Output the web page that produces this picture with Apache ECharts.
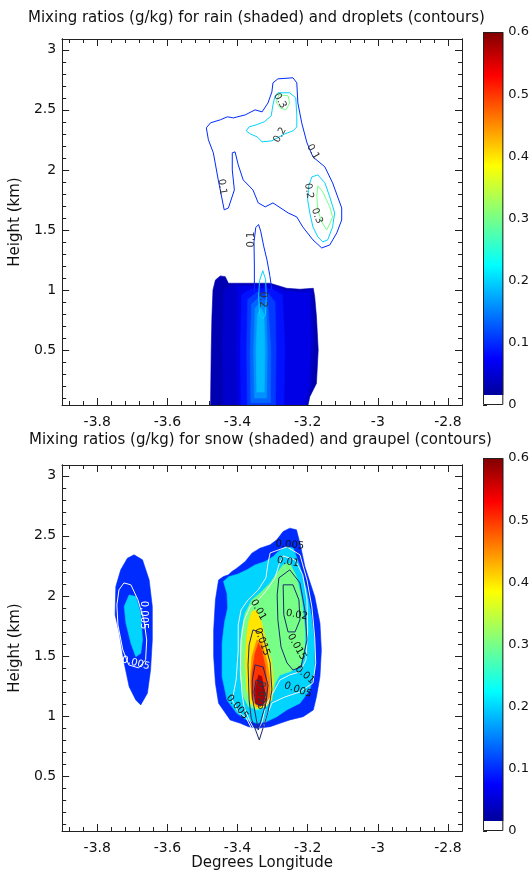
<!DOCTYPE html>
<html><head><meta charset="utf-8">
<script src="https://cdn.jsdelivr.net/npm/echarts@6/dist/echarts.min.js"></script>
<style>html,body{margin:0;padding:0;background:#fff}#c{width:532px;height:873px}</style>
</head><body><div id="c"></div><script>
const FONT = '"DejaVu Sans", sans-serif';
const AX = '#222', TXT = '#111';

// ---- axis ranges and ticks ----
const X_MIN = -3.9, X_MAX = -2.76, Y_MIN = 0.042, Y_MAX = 3.09;
const xMajorTicks = [-3.8, -3.6, -3.4, -3.2, -3.0, -2.8];
const xMinorTicks = [-3.88, -3.84, -3.76, -3.72, -3.68, -3.64, -3.56, -3.52, -3.48, -3.44, -3.36, -3.32, -3.28, -3.24, -3.16, -3.12, -3.08, -3.04, -2.96, -2.92, -2.88, -2.84];
const yMajorTicks = [0.5, 1, 1.5, 2, 2.5, 3];
const yMinorTicks = [0.1, 0.2, 0.3, 0.4, 0.6, 0.7, 0.8, 0.9, 1.1, 1.2, 1.3, 1.4, 1.6, 1.7, 1.8, 1.9, 2.1, 2.2, 2.3, 2.4, 2.6, 2.7, 2.8, 2.9];
const CB_MIN = 0, CB_WHITE = 0.016, CB_MAX = 0.6;

// jet-like colour table (value, rgb)
const cmapStops = [[0, [0, 0, 128]], [0.075, [0, 0, 255]], [0.225, [0, 255, 255]], [0.385, [255, 255, 0]], [0.53, [255, 0, 0]], [0.6, [128, 0, 0]]];

// ---- top panel: rain (shaded) ----
const rainLevels = [0.03, 0.045, 0.06, 0.085, 0.11, 0.135, 0.16, 0.185];
const rainL1 = [[-3.477,0.042],[-3.475,0.5],[-3.473,0.778],[-3.47,1.0],[-3.463,1.083],[-3.449,1.117],[-3.435,1.111],[-3.426,1.056],[-3.402,1.056],[-3.345,1.056],[-3.307,1.056],[-3.26,1.014],[-3.222,1.006],[-3.184,1.014],[-3.18,0.944],[-3.175,0.778],[-3.17,0.5],[-3.175,0.222],[-3.194,0.111],[-3.199,0.042]];
const rainL2 = [[-3.44,0.042],[-3.442,0.6],[-3.438,1.0],[-3.42,1.04],[-3.345,1.045],[-3.307,1.045],[-3.26,1.0],[-3.222,0.992],[-3.188,1.0],[-3.184,0.6],[-3.19,0.2],[-3.203,0.042]];
const rainL3 = [[-3.40,0.042],[-3.403,0.5],[-3.40,1.03],[-3.345,1.035],[-3.307,1.035],[-3.26,0.985],[-3.222,0.978],[-3.195,0.98],[-3.192,0.6],[-3.197,0.2],[-3.21,0.042]];
const rainL4 = [[-3.39,0.042],[-3.392,0.5],[-3.388,0.96],[-3.36,1.01],[-3.305,1.01],[-3.272,0.96],[-3.265,0.5],[-3.268,0.042]];
const rainL5 = [[-3.372,0.042],[-3.374,0.5],[-3.371,0.92],[-3.345,0.98],[-3.312,0.97],[-3.293,0.9],[-3.29,0.5],[-3.292,0.042]];
const rainL6 = [[-3.362,0.06],[-3.364,0.5],[-3.36,0.88],[-3.335,0.95],[-3.314,0.9],[-3.305,0.5],[-3.306,0.06]];
const rainL7 = [[-3.352,0.1],[-3.354,0.5],[-3.35,0.85],[-3.333,0.9],[-3.319,0.84],[-3.315,0.5],[-3.317,0.1]];
const rainL8 = [[-3.345,0.15],[-3.347,0.5],[-3.343,0.8],[-3.333,0.85],[-3.325,0.8],[-3.322,0.5],[-3.324,0.15]];

// ---- top panel: droplets (contours) ----
const drop01Upper = [[-3.438,1.667],[-3.455,1.917],[-3.469,2.142],[-3.483,2.25],[-3.489,2.35],[-3.477,2.392],[-3.449,2.417],[-3.429,2.442],[-3.412,2.433],[-3.378,2.458],[-3.35,2.5],[-3.33,2.483],[-3.313,2.558],[-3.302,2.65],[-3.299,2.725],[-3.285,2.758],[-3.242,2.767],[-3.231,2.725],[-3.228,2.558],[-3.217,2.392],[-3.202,2.225],[-3.185,2.108],[-3.151,2.025],[-3.129,1.892],[-3.103,1.683],[-3.103,1.583],[-3.117,1.475],[-3.137,1.375],[-3.16,1.35],[-3.185,1.417],[-3.214,1.525],[-3.231,1.608],[-3.256,1.642],[-3.299,1.725],[-3.321,1.692],[-3.341,1.725],[-3.356,1.833],[-3.384,1.917],[-3.398,2.042],[-3.407,2.15],[-3.415,2.142],[-3.415,2.0],[-3.409,1.833],[-3.426,1.683]];
const drop01Column = [[-3.352,0.98],[-3.352,1.2],[-3.353,1.40],[-3.348,1.52],[-3.340,1.545],[-3.334,1.49],[-3.325,1.36],[-3.316,1.25],[-3.308,1.12],[-3.302,1.0]];
const drop02Upper = [[-3.285,2.642],[-3.251,2.642],[-3.234,2.6],[-3.231,2.458],[-3.231,2.358],[-3.242,2.325],[-3.265,2.3],[-3.302,2.242],[-3.33,2.233],[-3.344,2.275],[-3.364,2.3],[-3.375,2.325],[-3.367,2.358],[-3.347,2.375],[-3.324,2.4],[-3.304,2.45],[-3.299,2.542],[-3.293,2.617]];
const drop02Right = [[-3.188,1.942],[-3.171,1.958],[-3.151,1.892],[-3.137,1.775],[-3.123,1.642],[-3.129,1.525],[-3.143,1.417],[-3.157,1.4],[-3.171,1.442],[-3.185,1.525],[-3.194,1.642],[-3.2,1.75],[-3.197,1.867]];
const drop02Column = [[-3.328,1.16],[-3.320,1.09],[-3.318,0.95],[-3.320,0.80],[-3.328,0.76],[-3.337,0.79],[-3.340,0.95],[-3.337,1.08]];
const drop03Upper = [[-3.282,2.625],[-3.256,2.617],[-3.251,2.558],[-3.262,2.5],[-3.279,2.517],[-3.29,2.567]];
const drop03Right = [[-3.171,1.867],[-3.157,1.817],[-3.137,1.692],[-3.129,1.608],[-3.137,1.55],[-3.146,1.5],[-3.16,1.567],[-3.171,1.667],[-3.174,1.783]];
const dropLabelText = ['0.1', '0.1', '0.1', '0.2', '0.3', '0.2', '0.3', '0.2'];
const dropLabelPos = [[-3.444,1.86],[-3.185,2.15],[-3.36,1.42],[-3.279,2.29],[-3.279,2.575],[-3.197,1.825],[-3.174,1.617],[-3.329,0.92]];
const dropLabelAngle = [-82, -60, 90, 60, -60, -82, -70, -90];

// ---- bottom panel: snow (shaded) ----
const snowLevels = [0.1, 0.2, 0.1, 0.2, 0.3, 0.4, 0.45, 0.5, 0.575];
const snowLeftBlue = [[-3.695,2.342],[-3.671,2.3],[-3.652,2.133],[-3.643,1.911],[-3.643,1.633],[-3.648,1.383],[-3.657,1.189],[-3.676,1.092],[-3.69,1.133],[-3.709,1.244],[-3.723,1.439],[-3.737,1.689],[-3.749,1.842],[-3.747,2.078],[-3.733,2.217],[-3.714,2.314]];
const snowLeftCyan = [[-3.709,2.008],[-3.69,1.994],[-3.676,1.856],[-3.671,1.633],[-3.676,1.522],[-3.69,1.494],[-3.704,1.606],[-3.718,1.772],[-3.723,1.911]];
const snowBlue = [[-3.251,2.564],[-3.232,2.55],[-3.222,2.439],[-3.208,2.244],[-3.18,1.994],[-3.165,1.772],[-3.161,1.55],[-3.165,1.328],[-3.175,1.161],[-3.184,1.05],[-3.213,0.994],[-3.251,0.967],[-3.279,0.939],[-3.307,0.911],[-3.345,0.897],[-3.369,0.911],[-3.392,0.939],[-3.421,0.967],[-3.454,1.106],[-3.463,1.272],[-3.468,1.494],[-3.468,1.717],[-3.463,1.967],[-3.454,2.133],[-3.44,2.161],[-3.426,2.175],[-3.416,2.203],[-3.402,2.231],[-3.378,2.286],[-3.359,2.356],[-3.336,2.397],[-3.307,2.425],[-3.288,2.467],[-3.27,2.536]];
const snowCyan = [[-3.284,2.369],[-3.26,2.411],[-3.241,2.397],[-3.222,2.244],[-3.203,2.05],[-3.189,1.828],[-3.18,1.606],[-3.18,1.383],[-3.194,1.217],[-3.222,1.106],[-3.26,1.05],[-3.288,0.994],[-3.317,0.953],[-3.345,0.939],[-3.373,0.967],[-3.402,1.022],[-3.43,1.133],[-3.444,1.328],[-3.444,1.606],[-3.437,1.78],[-3.428,1.9],[-3.43,2.02],[-3.44,2.12],[-3.425,2.16],[-3.40,2.18],[-3.373,2.217],[-3.35,2.258],[-3.321,2.286],[-3.298,2.328]];
const snowGreen = [[-3.27,2.258],[-3.251,2.272],[-3.232,2.161],[-3.217,1.967],[-3.208,1.717],[-3.208,1.55],[-3.222,1.411],[-3.251,1.369],[-3.279,1.342],[-3.293,1.272],[-3.302,1.161],[-3.317,1.078],[-3.345,1.05],[-3.369,1.078],[-3.383,1.161],[-3.392,1.328],[-3.392,1.55],[-3.388,1.717],[-3.378,1.856],[-3.359,1.967],[-3.336,2.022],[-3.307,2.106],[-3.288,2.189]];
const snowYellow = [[-3.359,1.869],[-3.345,1.883],[-3.331,1.772],[-3.317,1.606],[-3.302,1.439],[-3.298,1.272],[-3.302,1.133],[-3.321,1.078],[-3.345,1.064],[-3.364,1.106],[-3.373,1.217],[-3.378,1.439],[-3.375,1.633],[-3.369,1.772]];
const snowOrange = [[-3.345,1.633],[-3.331,1.619],[-3.317,1.467],[-3.307,1.3],[-3.307,1.161],[-3.321,1.092],[-3.345,1.078],[-3.359,1.133],[-3.364,1.3],[-3.359,1.494]];
const snowRed = [[-3.34,1.606],[-3.331,1.55],[-3.321,1.411],[-3.315,1.244],[-3.317,1.133],[-3.331,1.092],[-3.35,1.106],[-3.359,1.189],[-3.359,1.356],[-3.35,1.522]];
const snowDarkRed = [[-3.34,1.342],[-3.331,1.328],[-3.324,1.217],[-3.324,1.106],[-3.336,1.078],[-3.347,1.106],[-3.35,1.217]];

// ---- bottom panel: graupel (contours) ----
const graupelLeft005 = [[-3.724,2.108],[-3.704,2.092],[-3.684,1.967],[-3.667,1.8],[-3.659,1.633],[-3.662,1.467],[-3.682,1.4],[-3.71,1.425],[-3.727,1.55],[-3.741,1.758],[-3.744,1.925],[-3.738,2.05]];
const graupel005 = [[-3.307,2.358],[-3.259,2.408],[-3.222,2.342],[-3.202,2.133],[-3.188,1.908],[-3.18,1.658],[-3.177,1.442],[-3.185,1.275],[-3.222,1.2],[-3.265,1.158],[-3.302,1.108],[-3.319,0.983],[-3.336,0.8],[-3.358,0.883],[-3.375,0.983],[-3.398,1.033],[-3.415,1.133],[-3.404,1.3],[-3.398,1.55],[-3.398,1.758],[-3.39,1.883],[-3.37,1.967],[-3.341,2.05],[-3.319,2.15],[-3.313,2.275]];
const graupel01 = [[-3.27,2.333],[-3.236,2.3],[-3.214,2.175],[-3.202,1.967],[-3.2,1.717],[-3.205,1.467],[-3.222,1.367],[-3.251,1.342],[-3.279,1.3],[-3.302,1.175],[-3.319,1.092],[-3.33,0.95],[-3.347,0.858],[-3.364,0.95],[-3.381,1.067],[-3.387,1.183],[-3.392,1.383],[-3.39,1.633],[-3.381,1.8],[-3.364,1.908],[-3.341,1.967],[-3.316,2.05],[-3.293,2.15],[-3.282,2.258]];
const graupel015Right = [[-3.282,2.15],[-3.251,2.217],[-3.222,2.108],[-3.208,1.883],[-3.202,1.633],[-3.219,1.408],[-3.242,1.383],[-3.259,1.442],[-3.276,1.575],[-3.285,1.8],[-3.287,2.008]];
const graupel015Left = [[-3.356,1.717],[-3.33,1.692],[-3.307,1.442],[-3.302,1.217],[-3.313,1.033],[-3.338,0.80],[-3.361,0.983],[-3.367,1.133],[-3.37,1.425],[-3.367,1.592]];
const graupel02Right = [[-3.27,2.092],[-3.242,2.092],[-3.225,1.967],[-3.222,1.8],[-3.236,1.7],[-3.256,1.7],[-3.268,1.842]];
const graupel02Left = [[-3.35,1.425],[-3.327,1.408],[-3.313,1.258],[-3.319,1.108],[-3.341,0.883],[-3.358,1.158],[-3.358,1.3]];
const graupel025Left = [[-3.347,1.3],[-3.33,1.283],[-3.321,1.175],[-3.33,1.092],[-3.347,1.1],[-3.353,1.2]];
const graupelLabelText = ['0.005', '0.005', '0.005', '0.01', '0.01', '0.015', '0.02', '0.015', '0.01', '0.005', '0.005', '0.025'];
const graupelLabelPos = [[-3.667,1.84],[-3.69,1.44],[-3.251,2.425],[-3.256,2.283],[-3.341,1.883],[-3.33,1.617],[-3.231,1.842],[-3.231,1.575],[-3.208,1.342],[-3.228,1.217],[-3.401,1.075],[-3.333,1.17]];
const graupelLabelAngle = [-90, -15, -5, -10, -60, -70, -10, -60, -40, -20, -50, -90];
const graupelLabelColor = ['#ffffff', '#ffffff', '#111', '#111', '#111', '#111', '#111', '#111', '#111', '#111', '#111', '#333'];

// ---- helpers ----
function colorAt(v) {
  if (v <= cmapStops[0][0]) return 'rgb(' + cmapStops[0][1].join(',') + ')';
  for (let i = 1; i < cmapStops.length; i++) {
    if (v <= cmapStops[i][0]) {
      const a = cmapStops[i - 1], b = cmapStops[i];
      const t = (v - a[0]) / (b[0] - a[0]);
      const c = a[1].map((x, k) => Math.round(x + (b[1][k] - x) * t));
      return 'rgb(' + c.join(',') + ')';
    }
  }
  return 'rgb(' + cmapStops[cmapStops.length - 1][1].join(',') + ')';
}
const fmt1 = v => String(Math.round(v * 10) / 10);
const lineStyleAx = {color: AX, width: 1};

function xAxesFor(g, withName) {
  const base = {type: 'value', gridIndex: g, min: X_MIN, max: X_MAX, splitLine: {show: false},
    axisLine: {show: true, onZero: false, lineStyle: lineStyleAx}};
  return [
    Object.assign({}, base, {position: 'bottom',
      axisTick: {show: true, inside: true, length: 7, customValues: xMajorTicks, lineStyle: lineStyleAx},
      axisLabel: {show: true, customValues: xMajorTicks, margin: 10, color: TXT, fontSize: 14, fontFamily: FONT, formatter: fmt1},
      name: withName ? 'Degrees Longitude' : '', nameLocation: 'middle', nameGap: 24,
      nameTextStyle: {fontSize: 15, fontFamily: FONT, color: TXT}}),
    Object.assign({}, base, {position: 'bottom',
      axisTick: {show: true, inside: true, length: 4, customValues: xMinorTicks, lineStyle: lineStyleAx}, axisLabel: {show: false}}),
    Object.assign({}, base, {position: 'top',
      axisTick: {show: true, inside: true, length: 7, customValues: xMajorTicks, lineStyle: lineStyleAx}, axisLabel: {show: false}}),
    Object.assign({}, base, {position: 'top',
      axisTick: {show: true, inside: true, length: 4, customValues: xMinorTicks, lineStyle: lineStyleAx}, axisLabel: {show: false}})
  ];
}
function yAxesFor(g) {
  const base = {type: 'value', gridIndex: g, min: Y_MIN, max: Y_MAX, splitLine: {show: false},
    axisLine: {show: true, onZero: false, lineStyle: lineStyleAx}};
  return [
    Object.assign({}, base, {position: 'left',
      axisTick: {show: true, inside: true, length: 7, customValues: yMajorTicks, lineStyle: lineStyleAx},
      axisLabel: {show: true, customValues: yMajorTicks, margin: 6, color: TXT, fontSize: 14, fontFamily: FONT, formatter: fmt1},
      name: 'Height (km)', nameLocation: 'middle', nameGap: 33,
      nameTextStyle: {fontSize: 15, fontFamily: FONT, color: TXT}}),
    Object.assign({}, base, {position: 'left',
      axisTick: {show: true, inside: true, length: 4, customValues: yMinorTicks, lineStyle: lineStyleAx}, axisLabel: {show: false}}),
    Object.assign({}, base, {position: 'right',
      axisTick: {show: true, inside: true, length: 7, customValues: yMajorTicks, lineStyle: lineStyleAx}, axisLabel: {show: false}}),
    Object.assign({}, base, {position: 'right',
      axisTick: {show: true, inside: true, length: 4, customValues: yMinorTicks, lineStyle: lineStyleAx}, axisLabel: {show: false}})
  ];
}
function fillSeries(g, polys, levels) {
  return {type: 'custom', coordinateSystem: 'cartesian2d', xAxisIndex: 4 * g, yAxisIndex: 4 * g,
    silent: true, animation: false, clip: true, z: 2,
    data: polys.map((p, i) => [p[0][0], p[0][1], i]),
    renderItem(params, api) {
      const i = api.value(2);
      const pts = polys[i].map(q => api.coord(q));
      const col = colorAt(levels[i]);
      return {type: 'polygon', shape: {points: pts}, style: {fill: col, stroke: col, lineWidth: 0.6}};
    }};
}
function lineSeries(g, pts, color) {
  return {type: 'line', xAxisIndex: 4 * g, yAxisIndex: 4 * g, data: pts.concat([pts[0]]),
    symbol: 'none', showSymbol: false, silent: true, animation: false, z: 3, smooth: false,
    lineStyle: {color: color, width: 1}};
}
function openLineSeries(g, pts, color) {
  return {type: 'line', xAxisIndex: 4 * g, yAxisIndex: 4 * g, data: pts,
    symbol: 'none', showSymbol: false, silent: true, animation: false, z: 3, smooth: false,
    lineStyle: {color: color, width: 1}};
}
function labelSeries(g, texts, pos, angles, colors) {
  return {type: 'custom', coordinateSystem: 'cartesian2d', xAxisIndex: 4 * g, yAxisIndex: 4 * g,
    silent: true, animation: false, z: 4,
    data: pos.map((p, i) => [p[0], p[1], i]),
    renderItem(params, api) {
      const i = api.value(2);
      const c = api.coord([api.value(0), api.value(1)]);
      return {type: 'text', x: c[0], y: c[1], rotation: angles[i] * Math.PI / 180,
        style: {text: texts[i], fill: Array.isArray(colors) ? colors[i] : colors,
          font: '10px "DejaVu Sans", sans-serif', align: 'center', verticalAlign: 'middle'}};
    }};
}
function colorbarSeries(k) {
  const stops = [{offset: 0, color: colorAt(CB_WHITE)}].concat(
    cmapStops.filter(s => s[0] > CB_WHITE).map(s => ({offset: (s[0] - CB_WHITE) / (CB_MAX - CB_WHITE), color: colorAt(s[0])})));
  return {type: 'custom', coordinateSystem: 'cartesian2d', xAxisIndex: 8 + k, yAxisIndex: 8 + k,
    silent: true, animation: false, z: 2,
    data: [[0, CB_MIN, CB_WHITE, CB_MAX]],
    renderItem(params, api) {
      const pb = api.coord([0, api.value(1)]), pw = api.coord([0, api.value(2)]), pt = api.coord([0, api.value(3)]);
      const x1 = api.coord([1, api.value(1)])[0];
      const x0 = pb[0], w = x1 - x0;
      return {type: 'group', children: [
        {type: 'rect', shape: {x: x0, y: pw[1], width: w, height: pb[1] - pw[1]}, style: {fill: '#ffffff'}},
        {type: 'rect', shape: {x: x0, y: pt[1], width: w, height: pw[1] - pt[1]},
          style: {fill: {type: 'linear', x: 0, y: 1, x2: 0, y2: 0, colorStops: stops}}},
        {type: 'rect', shape: {x: x0 + 0.5, y: pt[1] + 0.5, width: w - 1, height: pb[1] - pt[1] - 1},
          style: {fill: 'none', stroke: '#222', lineWidth: 1}}
      ]};
    }};
}
function cbAxes(k) {
  return {
    x: {type: 'value', gridIndex: 2 + k, min: 0, max: 1, show: false},
    y: {type: 'value', gridIndex: 2 + k, min: CB_MIN, max: CB_MAX, interval: 0.1, position: 'right',
      axisLine: {show: false}, splitLine: {show: false},
      axisTick: {show: true, inside: false, length: 4, lineStyle: lineStyleAx},
      axisLabel: {show: true, margin: 5, color: TXT, fontSize: 13, fontFamily: FONT, formatter: fmt1}}
  };
}

const cb0 = cbAxes(0), cb1 = cbAxes(1);
const NAVY_LINE = '#1c2a6e';
const option = {
  animation: false,
  backgroundColor: '#ffffff',
  title: [
    {text: 'Mixing ratios (g/kg) for rain (shaded) and droplets (contours)', left: 28, top: 11, padding: 0,
      textStyle: {fontSize: 15, fontWeight: 'normal', fontFamily: FONT, color: TXT}},
    {text: 'Mixing ratios (g/kg) for snow (shaded) and graupel (contours)', left: 29, top: 433, padding: 0,
      textStyle: {fontSize: 15, fontWeight: 'normal', fontFamily: FONT, color: TXT}}
  ],
  grid: [
    {left: 61, top: 39, width: 401, height: 366},
    {left: 61, top: 465, width: 401, height: 366},
    {left: 483, top: 32, width: 23, height: 373},
    {left: 483, top: 458, width: 23, height: 373}
  ],
  xAxis: xAxesFor(0, false).concat(xAxesFor(1, true), [cb0.x, cb1.x]),
  yAxis: yAxesFor(0).concat(yAxesFor(1), [cb0.y, cb1.y]),
  series: [
    fillSeries(0, [rainL1, rainL2, rainL3, rainL4, rainL5, rainL6, rainL7, rainL8], rainLevels),
    lineSeries(0, drop01Upper, colorAt(0.1)),
    openLineSeries(0, drop01Column, colorAt(0.1)),
    lineSeries(0, drop02Upper, colorAt(0.2)),
    lineSeries(0, drop02Right, colorAt(0.2)),
    lineSeries(0, drop02Column, colorAt(0.2)),
    lineSeries(0, drop03Upper, colorAt(0.3)),
    lineSeries(0, drop03Right, colorAt(0.3)),
    labelSeries(0, dropLabelText, dropLabelPos, dropLabelAngle, '#333'),

    fillSeries(1, [snowLeftBlue, snowLeftCyan, snowBlue, snowCyan, snowGreen, snowYellow, snowOrange, snowRed, snowDarkRed], snowLevels),
    lineSeries(1, graupelLeft005, '#ffffff'),
    lineSeries(1, graupel005, '#f4f4f4'),
    lineSeries(1, graupel01, '#f4f4f4'),
    lineSeries(1, graupel015Right, NAVY_LINE),
    lineSeries(1, graupel015Left, NAVY_LINE),
    lineSeries(1, graupel02Right, NAVY_LINE),
    lineSeries(1, graupel02Left, NAVY_LINE),
    lineSeries(1, graupel025Left, NAVY_LINE),
    labelSeries(1, graupelLabelText, graupelLabelPos, graupelLabelAngle, graupelLabelColor),

    colorbarSeries(0),
    colorbarSeries(1)
  ]
};
const chart = echarts.init(document.getElementById('c'), null, {renderer: 'canvas'});
chart.setOption(option);
</script></body></html>
